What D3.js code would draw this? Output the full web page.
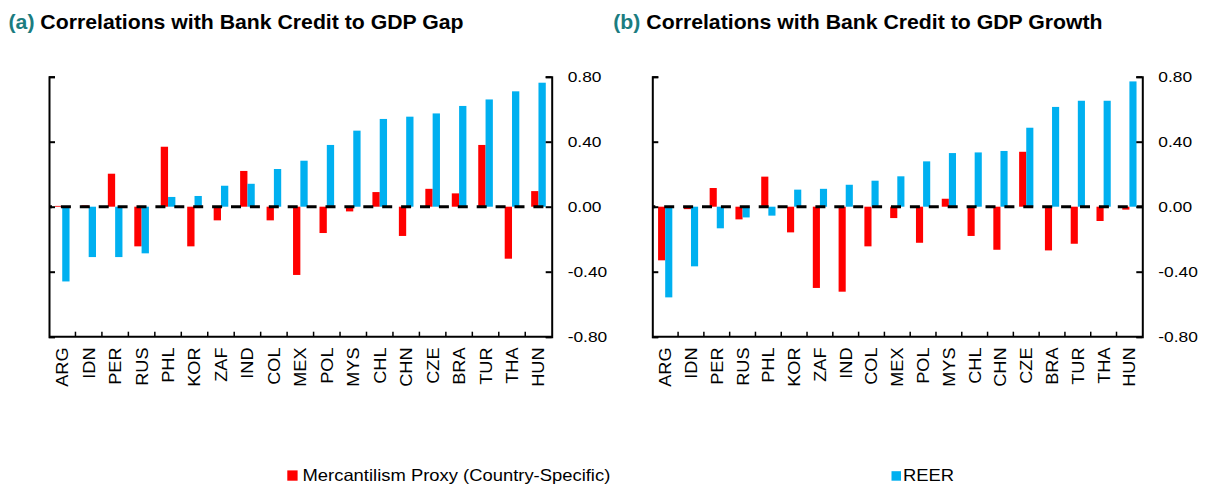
<!DOCTYPE html>
<html>
<head>
<meta charset="utf-8">
<script src="https://cdn.jsdelivr.net/npm/d3@7"></script>
<style>
  html, body { margin: 0; padding: 0; background: #ffffff; }
  svg { display: block; font-family: "Liberation Sans", Arial, sans-serif; }
</style>
</head>
<body>
<svg id="chart" width="1207" height="485"></svg>
<script>
// ---------- data ----------
const categories = ["ARG","IDN","PER","RUS","PHL","KOR","ZAF","IND","COL","MEX","POL","MYS","CHL","CHN","CZE","BRA","TUR","THA","HUN"];

// Panel (a): Correlations with Bank Credit to GDP Gap
const gapMercantilism = [0.005, 0.008, 0.203, -0.244, 0.369, -0.244, -0.084, 0.22, -0.084, -0.42, -0.162, -0.029, 0.09, -0.18, 0.11, 0.082, 0.38, -0.32, 0.096];
const gapREER         = [-0.46, -0.31, -0.31, -0.287, 0.06, 0.066, 0.129, 0.141, 0.232, 0.283, 0.38, 0.468, 0.54, 0.554, 0.574, 0.62, 0.66, 0.71, 0.763];

// Panel (b): Correlations with Bank Credit to GDP Growth
const growthMercantilism = [-0.33, -0.015, 0.115, -0.078, 0.185, -0.158, -0.50, -0.523, -0.244, -0.07, -0.222, 0.049, -0.18, -0.265, 0.338, -0.269, -0.228, -0.088, -0.018];
const growthREER         = [-0.558, -0.367, -0.133, -0.066, -0.055, 0.105, 0.11, 0.135, 0.16, 0.187, 0.279, 0.33, 0.334, 0.343, 0.486, 0.614, 0.652, 0.652, 0.771];

const yTickValues = [-0.8, -0.4, 0, 0.4, 0.8];
const yTickLabels = ["-0.80", "-0.40", "0.00", "0.40", "0.80"];

const seriesNames = ["Mercantilism Proxy (Country-Specific)", "REER"];
const titlePrefixes = ["(a)", "(b)"];
const titleTexts = [" Correlations with Bank Credit to GDP Gap", " Correlations with Bank Credit to GDP Growth"];

// ---------- styles ----------
const RED = "#FF0000";
const BLUE = "#00B0F0";
const TEAL = "#1B7C80";
const SX = 1.12; // horizontal glyph stretch seen in reference text

const svg = d3.select("#chart");

const panels = [
  { left: 49, right: 551.7, titleX: 8.5, prefix: titlePrefixes[0], title: titleTexts[0], m: gapMercantilism, r: gapREER },
  { left: 652.3, right: 1142.3, titleX: 613.3, prefix: titlePrefixes[1], title: titleTexts[1], m: growthMercantilism, r: growthREER }
];

const yTop = 76.7, yBottom = 336.7;
const y = d3.scaleLinear().domain([-0.8, 0.8]).range([yBottom, yTop]);

panels.forEach((p, pi) => {
  const g = svg.append("g");

  // title
  const t = g.append("text")
    .attr("transform", `translate(${p.titleX},29.3) scale(1.09,1)`)
    .attr("font-size", 19.5)
    .attr("font-weight", "bold");
  t.append("tspan").attr("fill", TEAL).text(p.prefix);
  t.append("tspan").attr("fill", "#000").attr("xml:space", "preserve").text(p.title);

  const x = d3.scaleBand().domain(categories).range([p.left, p.right]).padding(0);
  const step = x.step();
  const x1 = d3.scaleBand().domain(["m", "r"]).range([0, step]).paddingInner(0).paddingOuter(0.81);

  const rows = categories.map((c, i) => ({ c, m: p.m[i], r: p.r[i] }));

  // bars
  const grp = g.append("g").selectAll("g").data(rows).join("g")
    .attr("transform", d => `translate(${x(d.c)},0)`);
  grp.append("rect")
    .attr("x", x1("m")).attr("width", x1.bandwidth())
    .attr("y", d => y(Math.max(0, d.m)))
    .attr("height", d => Math.abs(y(d.m) - y(0)))
    .attr("fill", RED);
  grp.append("rect")
    .attr("x", x1("r")).attr("width", x1.bandwidth())
    .attr("y", d => y(Math.max(0, d.r)))
    .attr("height", d => Math.abs(y(d.r) - y(0)))
    .attr("fill", BLUE);

  // zero dashed line
  g.append("line")
    .attr("x1", p.left).attr("x2", p.right)
    .attr("y1", y(0)).attr("y2", y(0))
    .attr("stroke", "#000").attr("stroke-width", 3)
    .attr("stroke-dasharray", "10 8.9")
    .attr("stroke-dashoffset", 7);

  // left axis (no labels, inward ticks)
  const la = g.append("g").attr("transform", `translate(${p.left},0)`)
    .call(d3.axisLeft(y).tickValues(yTickValues).tickSize(-6).tickSizeOuter(-6).tickFormat(""));
  la.selectAll("path,line").attr("stroke", "#000").attr("stroke-width", 2);

  // right axis with labels
  const ra = g.append("g").attr("transform", `translate(${p.right},0)`)
    .call(d3.axisRight(y).tickValues(yTickValues).tickSize(-6).tickSizeOuter(-6)
      .tickFormat((d, i) => yTickLabels[i]));
  ra.selectAll("path,line").attr("stroke", "#000").attr("stroke-width", 2);
  ra.selectAll("text")
    .attr("x", null)
    .attr("transform", `translate(16,0) scale(${SX},1)`)
    .attr("font-size", 15.5)
    .attr("font-family", "Liberation Sans, Arial, sans-serif")
    .attr("fill", "#000")
    .attr("text-anchor", "start");

  // bottom axis: line with inward ticks at category boundaries
  g.append("line")
    .attr("x1", p.left).attr("x2", p.right)
    .attr("y1", yBottom).attr("y2", yBottom)
    .attr("stroke", "#000").attr("stroke-width", 2);
  g.append("g").selectAll("line").data(categories.slice(1)).join("line")
    .attr("x1", d => x(d)).attr("x2", d => x(d))
    .attr("y1", yBottom).attr("y2", yBottom - 5)
    .attr("stroke", "#000").attr("stroke-width", 1.5);

  // category labels (rotated)
  g.append("g").selectAll("text").data(categories).join("text")
    .attr("transform", d => `translate(${x(d) + step / 2},347.5) rotate(-90) scale(1.1,1)`)
    .attr("text-anchor", "end")
    .attr("dy", "0.36em")
    .attr("font-size", 16.5)
    .attr("fill", "#000")
    .text(d => d);
});

// legend
const legend = [
  { name: seriesNames[0], color: RED, sqX: 287.3, sqSize: 10.3, tx: 302.5 },
  { name: seriesNames[1], color: BLUE, sqX: 891.5, sqSize: 9.5, tx: 903 }
];
legend.forEach(l => {
  svg.append("rect")
    .attr("x", l.sqX).attr("y", 480.7 - l.sqSize)
    .attr("width", l.sqSize).attr("height", l.sqSize)
    .attr("fill", l.color);
  svg.append("text")
    .attr("transform", `translate(${l.tx},480.5) scale(1.13,1)`)
    .attr("font-size", 16.3)
    .attr("fill", "#000")
    .text(l.name);
});
</script>
</body>
</html>
